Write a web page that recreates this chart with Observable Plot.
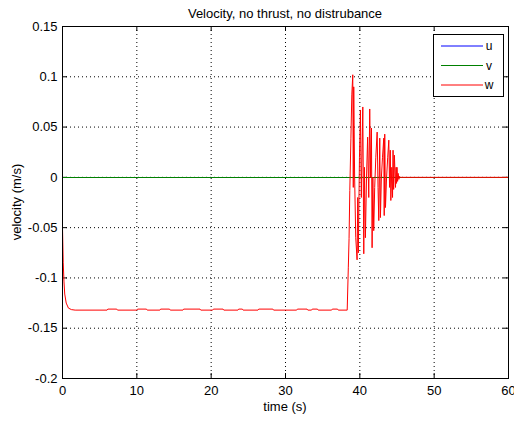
<!DOCTYPE html>
<html>
<head>
<meta charset="utf-8">
<script src="https://cdn.jsdelivr.net/npm/d3@7"></script>
<script src="https://cdn.jsdelivr.net/npm/@observablehq/plot@0.6"></script>
<style>
  html, body { margin: 0; padding: 0; background: #fff; }
  #chart { width: 514px; height: 421px; }
  svg { font-family: "Liberation Sans", Arial, sans-serif; }
</style>
</head>
<body>
<div id="chart"></div>
<script>
// ---- data ----
const titleText = "Velocity, no thrust, no distrubance";
const xLabel = "time (s)";
const yLabel = "velocity (m/s)";
const seriesNames = ["u", "v", "w"];
const seriesColors = ["#0000ff", "#008000", "#ff0000"];
const xTicks = [0, 10, 20, 30, 40, 50, 60];
const yTicks = [-0.2, -0.15, -0.1, -0.05, 0, 0.05, 0.1, 0.15];

const tU = [0, 60];
const uVals = [0, 0];
const tV = [0, 60];
const vVals = [0, 0];

const tW = [0, 0.1, 0.2, 0.3, 0.5, 0.8, 1.2, 1.7,
  6.0, 6.1, 7.3, 7.4, 10.0, 10.1, 11.3, 11.4, 13.1, 13.2, 14.4, 14.5, 16.2, 16.3, 18.5, 18.6,
  20.2, 20.3, 21.6, 21.7, 23.6, 23.7, 24.2, 24.3, 26.3, 26.4, 28.3, 28.4, 31.5, 31.6, 32.9, 33.0,
  33.5, 33.6, 34.3, 34.4, 36.2, 36.3, 37.0, 37.1, 38.3,
  38.45, 38.55, 38.65, 38.8, 38.92, 39.05, 39.12, 39.18, 39.3, 39.45, 39.63, 39.72, 39.8, 39.95,
  40.08, 40.2, 40.4, 40.53, 40.62, 40.75, 40.9, 41.05, 41.2, 41.33, 41.45, 41.56, 41.65, 41.75,
  41.87, 42.0, 42.15, 42.33, 42.45, 42.55, 42.68, 42.77, 42.9, 43.05, 43.22, 43.28, 43.35, 43.45,
  43.6, 43.75, 43.9, 44.0, 44.1, 44.17, 44.3, 44.4, 44.47, 44.55, 44.65, 44.8, 44.88, 44.94,
  45.0, 45.08, 45.15, 45.25, 45.35, 45.45, 60];
const wVals = [-0.05, -0.085, -0.104, -0.116, -0.125, -0.13, -0.1315, -0.132,
  -0.132, -0.131, -0.131, -0.132, -0.132, -0.131, -0.131, -0.132, -0.132, -0.131, -0.131, -0.132, -0.132, -0.131, -0.131, -0.132,
  -0.132, -0.131, -0.131, -0.132, -0.132, -0.131, -0.131, -0.132, -0.132, -0.131, -0.131, -0.132, -0.132, -0.131, -0.131, -0.132,
  -0.132, -0.131, -0.131, -0.132, -0.132, -0.131, -0.131, -0.132, -0.132,
  -0.09, -0.061, -0.013, 0.039, 0.082, 0.102, -0.01, 0.09, 0.0, -0.06, -0.082, -0.02, -0.075, 0.02,
  0.067, -0.02, 0.07, -0.076, 0.01, -0.06, 0.0, 0.04, -0.02, 0.068, 0.0, 0.049, -0.07, 0.0,
  -0.053, -0.01, 0.02, 0.045, -0.01, -0.043, 0.039, -0.04, 0.0, 0.02, 0.039, -0.038, 0.043, -0.03,
  0.0, 0.02, 0.037, -0.01, 0.027, -0.023, 0.01, -0.02, 0.027, -0.012, 0.022, -0.01, 0.01, -0.006,
  0.01, -0.004, 0.004, -0.002, 0.001, 0, 0];

const rowsOf = (name, ts, vs) => ts.map((t, i) => ({series: name, t, val: vs[i]}));
const rowsU = rowsOf("u", tU, uVals);
const rowsV = rowsOf("v", tV, vVals);
const rowsW = rowsOf("w", tW, wVals);

const W = 514, H = 421;
const mL = 62, mR = 6, mT = 26, mB = 43;
const innerH = H - mT - mB;
const innerW = W - mL - mR;
const tickLen = 5;

const plot = Plot.plot({
  width: W,
  height: H,
  marginLeft: mL,
  marginRight: mR,
  marginTop: mT,
  marginBottom: mB,
  style: {fontFamily: "Liberation Sans, Arial, sans-serif", fontSize: "13px", background: "#fff", color: "#000"},
  x: {domain: [0, 60], label: null},
  y: {domain: [-0.2, 0.15], label: null},
  color: {domain: seriesNames, range: seriesColors},
  marks: [
    Plot.gridX(xTicks.slice(1, -1), {stroke: "#000", strokeOpacity: 1, strokeDasharray: "1,3"}),
    Plot.gridY(yTicks.slice(1, -1), {stroke: "#000", strokeOpacity: 1, strokeDasharray: "1,3"}),
    Plot.ruleX(xTicks, {x: d => d, stroke: "#000", insetTop: innerH - tickLen}),
    Plot.ruleX(xTicks, {x: d => d, stroke: "#000", insetBottom: innerH - tickLen}),
    Plot.ruleY(yTicks, {y: d => d, stroke: "#000", insetRight: innerW - tickLen}),
    Plot.ruleY(yTicks, {y: d => d, stroke: "#000", insetLeft: innerW - tickLen}),
    Plot.axisX(xTicks, {tickSize: 0, tickPadding: 7, fontSize: 13, fill: "#000", label: null}),
    Plot.axisY(yTicks, {tickSize: 0, tickPadding: 5, fontSize: 13, fill: "#000", label: null, tickFormat: d => String(d)}),
    Plot.line(rowsU, {x: "t", y: "val", stroke: "series", strokeWidth: 1, shapeRendering: "crispEdges"}),
    Plot.line(rowsV, {x: "t", y: "val", stroke: "series", strokeWidth: 1, shapeRendering: "crispEdges"}),
    Plot.line(rowsW, {x: "t", y: "val", stroke: "series", strokeWidth: 1}),
    Plot.frame({stroke: "#000"})
  ]
});

const svg = d3.select(plot);
// title
svg.append("text")
  .attr("x", mL + innerW / 2).attr("y", 18)
  .attr("text-anchor", "middle").attr("font-size", 13).attr("fill", "#000")
  .text(titleText);
// x label
svg.append("text")
  .attr("x", mL + innerW / 2).attr("y", 411)
  .attr("text-anchor", "middle").attr("font-size", 13).attr("fill", "#000")
  .text(xLabel);
// y label
svg.append("text")
  .attr("transform", `translate(21,${mT + innerH / 2}) rotate(-90)`)
  .attr("text-anchor", "middle").attr("font-size", 13).attr("fill", "#000")
  .text(yLabel);
// legend
const lg = svg.append("g").attr("transform", "translate(433,34)");
lg.append("rect").attr("x", 0.5).attr("y", 0.5).attr("width", 70).attr("height", 62)
  .attr("fill", "#fff").attr("stroke", "#000");
seriesNames.forEach((n, i) => {
  const yy = 12 + i * 19.5;
  lg.append("line").attr("x1", 8).attr("x2", 50).attr("y1", yy).attr("y2", yy)
    .attr("stroke", seriesColors[i]).attr("stroke-width", 1);
  lg.append("text").attr("x", 56).attr("y", yy + 4).attr("font-size", 12).attr("fill", "#000").text(n);
});

document.getElementById("chart").appendChild(plot);
</script>
</body>
</html>
